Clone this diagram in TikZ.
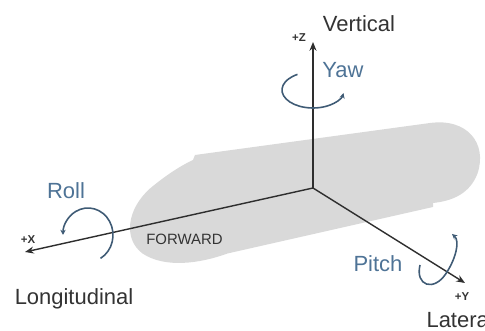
\documentclass[tikz,border=0pt]{standalone}
\usepackage{fontspec}
\setmainfont{Liberation Sans}
\usetikzlibrary{arrows.meta}
\definecolor{bodygray}{HTML}{D9D9D9}
\definecolor{axisdk}{HTML}{2E2E2E}
\definecolor{textdk}{HTML}{333333}
\definecolor{rotblue}{HTML}{4E7396}
\definecolor{arcblue}{HTML}{3F5B75}

\begin{document}
\begin{tikzpicture}[line width=0.8pt,
  axis/.style={axisdk, -{Stealth[length=5pt, width=4pt]}},
  rotarc/.style={arcblue, line width=0.9pt, -{Stealth[length=3pt, width=3pt]}},
  axlabel/.style={text=textdk, font=\fontsize{12.5}{14}\selectfont},
  rotlabel/.style={text=rotblue, font=\fontsize{12.5}{14}\selectfont},
  sign/.style={text=textdk, font=\fontsize{6.5}{7}\selectfont\bfseries, inner sep=0pt}]

\useasboundingbox (0,0) rectangle (9.70,6.62);

% Body outline
\fill[bodygray] (3.86,3.42) -- (3.90,3.52) -- (8.60,4.16)
  .. controls (9.35,4.26) and (9.75,3.75) .. (9.55,3.15)
  .. controls (9.40,2.75) and (9.05,2.60) .. (8.66,2.56)
  -- (8.66,2.48) -- (4.55,1.55)
  .. controls (4.00,1.35) and (3.30,1.25) .. (2.85,1.55)
  .. controls (2.45,1.85) and (2.55,2.45) .. (3.00,2.85)
  .. controls (3.30,3.10) and (3.60,3.30) .. (3.86,3.42) -- cycle;

\node[text=textdk, font=\fontsize{8.5}{10}\selectfont] (fwd) at (3.69,1.84) {FORWARD};

% Axes
\coordinate (o) at (6.26,2.86);
\coordinate (ztip) at (6.26,5.78);
\coordinate (xtip) at (0.50,1.58);
\coordinate (ytip) at (9.30,0.96);

\draw[axis] (o) -- (ztip);
\draw[axis] (o) -- (xtip);
\draw[axis] (o) -- (ytip);

\node[sign] (zsign) at (5.98,5.86) {+Z};
\node[sign] (xsign) at (0.56,1.82) {+X};
\node[sign] (ysign) at (9.24,0.68) {+Y};

\node[axlabel] (vert) at (7.18,6.14) {Vertical};
\node[axlabel] (longi) at (1.48,0.64) {Longitudinal};
\node[axlabel, anchor=west] (lat) at (8.40,0.22) {Lateral};

% Rotations
\draw[rotarc] (6.26,4.82) ++(120:0.62 and 0.36)
  arc[start angle=120, end angle=350, x radius=0.62, y radius=0.36];
\draw[rotarc] (1.76,1.92) ++(-60:0.50 and 0.54)
  arc[start angle=-60, end angle=180, x radius=0.50, y radius=0.54];
\draw[rotarc] (8.40,1.32) .. controls (8.30,0.90) and (8.68,0.78) .. (8.92,1.15)
  .. controls (9.12,1.45) and (9.20,1.80) .. (9.04,1.94);

\node[rotlabel] (yaw) at (6.86,5.22) {Yaw};
\node[rotlabel] (roll) at (1.32,2.80) {Roll};
\node[rotlabel] (pitch) at (7.56,1.34) {Pitch};

\end{tikzpicture}
\end{document}
